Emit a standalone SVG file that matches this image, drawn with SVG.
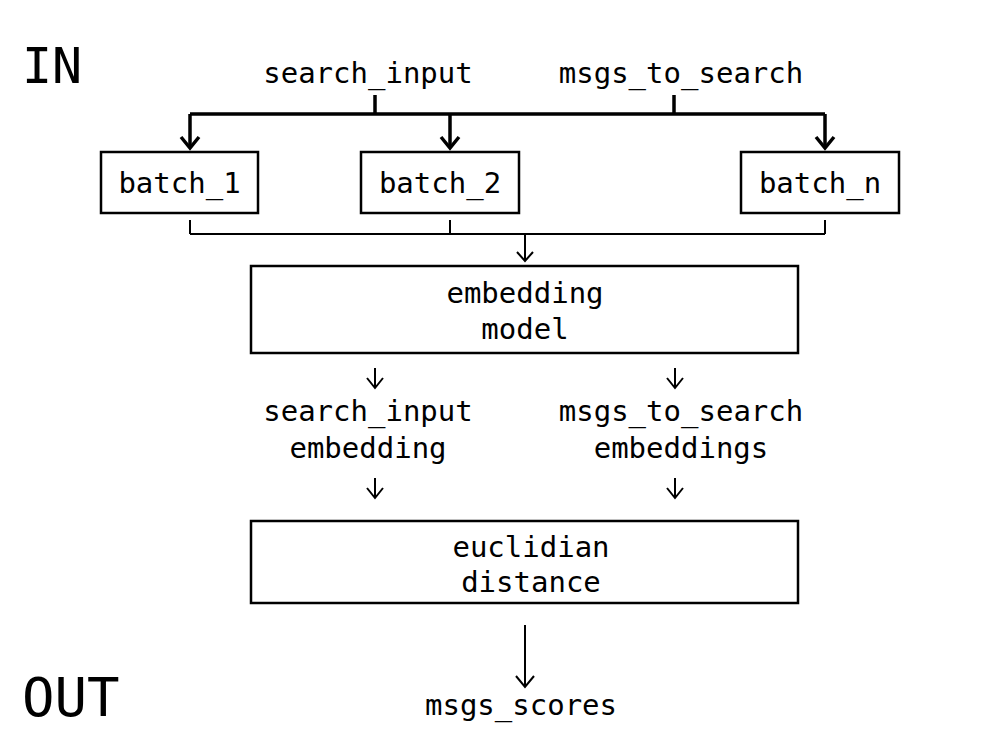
<svg xmlns="http://www.w3.org/2000/svg" width="1000" height="750" viewBox="0 0 1000 750">
<style>
text{font-family:"DejaVu Sans Mono","Liberation Mono",monospace;fill:#000;text-anchor:middle}
.lbl{font-size:29px}
.big{font-size:50px;text-anchor:start}
.box{fill:#fff;stroke:#000;stroke-width:2.5}
.thick{fill:none;stroke:#000;stroke-width:3.5}
.thin{fill:none;stroke:#000;stroke-width:2}
</style>
<rect width="1000" height="750" fill="#fff"/>
<text class="big" x="22" y="83">IN</text>
<text class="big" x="22" y="716" style="font-size:54px">OUT</text>
<g id="input_search_input"><text class="lbl" x="368" y="83">search_input</text></g>
<g id="input_msgs_to_search"><text class="lbl" x="681" y="83">msgs_to_search</text></g>
<g id="connectors">
<path class="thick" d="M375,95 V114 M674,95 V114 M190,114 H825 M190,114 V148 M450,114 V148 M825,114 V148"/>
<path class="thick" d="M181,137 L190,148 L199,137 M441,137 L450,148 L459,137 M816,137 L825,148 L834,137"/>
<path class="thin" d="M190,220 V234 M450,220 V234 M825,220 V234 M190,234 H825 M525,234 V261 M517,252 L525,261 L533,252"/>
<path class="thin" d="M375,368 V388 M367,378 L375,388 L383,378 M675,368 V388 M667,378 L675,388 L683,378"/>
<path class="thin" d="M375,478 V498 M367,488 L375,498 L383,488 M675,478 V498 M667,488 L675,498 L683,488"/>
<path class="thin" d="M525,625 V687 M516,676 L525,687 L534,676"/>
</g>
<g id="batch_1"><rect class="box" x="101" y="152" width="157" height="61"/><text class="lbl" x="179.5" y="193">batch_1</text></g>
<g id="batch_2"><rect class="box" x="361" y="152" width="158" height="61"/><text class="lbl" x="440" y="193">batch_2</text></g>
<g id="batch_n"><rect class="box" x="741" y="152" width="158" height="61"/><text class="lbl" x="820" y="193">batch_n</text></g>
<g id="embedding_model"><rect class="box" x="251" y="266" width="547" height="87"/><text class="lbl" x="525" y="303">embedding</text><text class="lbl" x="525" y="339">model</text></g>
<g id="search_input_embedding"><text class="lbl" x="368" y="421">search_input</text><text class="lbl" x="368" y="458">embedding</text></g>
<g id="msgs_to_search_embeddings"><text class="lbl" x="681" y="421">msgs_to_search</text><text class="lbl" x="681" y="458">embeddings</text></g>
<g id="euclidian_distance"><rect class="box" x="251" y="521" width="547" height="82"/><text class="lbl" x="531" y="557">euclidian</text><text class="lbl" x="531" y="592">distance</text></g>
<g id="msgs_scores"><text class="lbl" x="521" y="715">msgs_scores</text></g>
</svg>
